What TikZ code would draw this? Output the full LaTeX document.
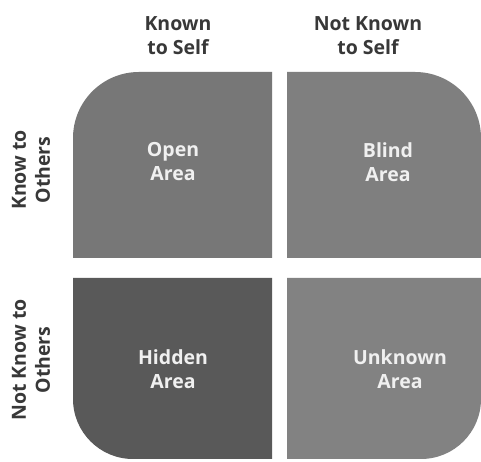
\documentclass[tikz,border=0pt]{standalone}
\usepackage{fontspec}
\setmainfont{Open Sans}
\begin{document}
\begin{tikzpicture}[x=1pt,y=1pt,
  areatext/.style={text=white!94!black,font=\bfseries\fontsize{19.5}{24}\selectfont,align=center,inner sep=0pt},
  headtext/.style={text=black!78,font=\bfseries\fontsize{19.5}{24}\selectfont,align=center,inner sep=0pt}]
\definecolor{openc}{HTML}{777777}
\definecolor{blindc}{HTML}{7F7F7F}
\definecolor{hiddenc}{HTML}{595959}
\definecolor{unknownc}{HTML}{828282}
\useasboundingbox[fill=white] (0,0) rectangle (481,462);
% four quadrants, each rounded only on its outer corner
\def\rt{66}
\def\rb{60}
\fill[openc] (272,204) -- (73,204) -- (73,390-\rt) arc[start angle=180,end angle=90,radius=\rt] -- (272,390) -- cycle;
\fill[blindc] (287,204) -- (287,390) -- (481-\rt,390) arc[start angle=90,end angle=0,radius=\rt] -- (481,204) -- cycle;
\fill[hiddenc] (272,184) -- (73,184) -- (73,3+\rb) arc[start angle=180,end angle=270,radius=\rb] -- (272,3) -- cycle;
\fill[unknownc] (287,184) -- (287,3) -- (481-\rb,3) arc[start angle=270,end angle=360,radius=\rb] -- (481,184) -- cycle;
% quadrant labels
\node[areatext] (open) at (173,300) {Open\\Area};
\node[areatext] (blind) at (388,300) {Blind\\Area};
\node[areatext] (hidden) at (173,93) {Hidden\\Area};
\node[areatext] (unknown) at (400,93) {Unknown\\Area};
% column headings
\node[headtext] (kself) at (178,426) {Known\\to Self};
\node[headtext] (nkself) at (368,426) {Not Known\\to Self};
% row headings
\node[headtext,rotate=90] (kothers) at (31,292) {Know to\\Others};
\node[headtext,rotate=90] (nkothers) at (31,102) {Not Know to\\Others};
\end{tikzpicture}
\end{document}
